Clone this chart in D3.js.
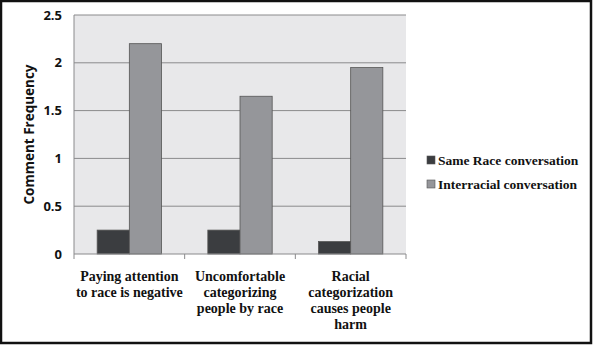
<!DOCTYPE html>
<html>
<head>
<meta charset="utf-8">
<script src="https://cdn.jsdelivr.net/npm/d3@7"></script>
<style>
  body { margin: 0; background: #fff; }
</style>
</head>
<body>
<div id="chart"></div>
<script>
// chart values
var categories = [
    ["Paying attention", "to race is negative"],
    ["Uncomfortable", "categorizing", "people by race"],
    ["Racial", "categorization", "causes people", "harm"]
];
var seriesNames = ["Same Race conversation", "Interracial conversation"];
var sameRace = [0.25, 0.25, 0.13];
var interracial = [2.2, 1.65, 1.95];
var yTicks = [0, 0.5, 1, 1.5, 2, 2.5];

var SERIF = "'Liberation Serif', 'Times New Roman', serif";
var SANS = "'Open Sans'";

function drawChart() {
    var W = 598, H = 348;
    var margin = { top: 15, left: 74 },
        width = 332,
        height = 239;
    var colors = ["#3b3d40", "#95969a"];

    var svg = d3.select("#chart").append("svg")
        .attr("width", W)
        .attr("height", H);

    // outer frame
    svg.append("rect")
        .attr("x", 1).attr("y", 1)
        .attr("width", 590).attr("height", 342)
        .attr("fill", "#fff")
        .attr("stroke", "#111")
        .attr("stroke-width", 2.5);

    var g = svg.append("g")
        .attr("transform", "translate(" + margin.left + "," + margin.top + ")");

    var x = d3.scaleBand()
        .domain(d3.range(categories.length))
        .range([0, width]);
    var x1 = d3.scaleBand()
        .domain([0, 1])
        .range([0, x.bandwidth()])
        .paddingOuter(0.72)
        .paddingInner(0);
    var y = d3.scaleLinear()
        .domain([0, 2.5])
        .range([height, 0]);

    g.append("rect")
        .attr("width", width)
        .attr("height", height)
        .attr("fill", "#e8e8ea");

    // gridlines
    g.selectAll(".grid")
        .data(yTicks.slice(1))
        .enter().append("line")
        .attr("x1", 0).attr("x2", width)
        .attr("y1", function (d) { return y(d); })
        .attr("y2", function (d) { return y(d); })
        .attr("stroke", "#8a8a8c")
        .attr("stroke-width", 1);

    // y axis (drawn by hand from the scale)
    g.append("line")
        .attr("x1", 0).attr("x2", 0)
        .attr("y1", 0).attr("y2", height)
        .attr("stroke", "#8a8a8c");
    g.selectAll(".ylbl")
        .data(yTicks)
        .enter().append("text")
        .attr("x", -12)
        .attr("y", function (d) { return y(d); })
        .attr("dy", "0.35em")
        .attr("text-anchor", "end")
        .style("font-family", SANS)
        .style("font-weight", "bold")
        .style("font-size", "13px")
        .attr("fill", "#111")
        .text(function (d) { return d; });

    // bars
    var data = [sameRace, interracial];
    var grp = g.selectAll(".cat")
        .data(d3.range(categories.length))
        .enter().append("g")
        .attr("transform", function (i) { return "translate(" + x(i) + ",0)"; });
    grp.selectAll("rect")
        .data(function (i) { return [0, 1].map(function (s) { return { s: s, v: data[s][i] }; }); })
        .enter().append("rect")
        .attr("x", function (d) { return x1(d.s); })
        .attr("width", x1.bandwidth())
        .attr("y", function (d) { return y(d.v); })
        .attr("height", function (d) { return height - y(d.v); })
        .attr("fill", function (d) { return colors[d.s]; })
        .attr("stroke", "#555")
        .attr("stroke-width", 0.8);

    // x axis
    var xa = g.append("g").attr("transform", "translate(0," + height + ")");
    xa.append("line").attr("x1", 0).attr("x2", width)
        .attr("stroke", "#8a8a8c");
    xa.selectAll(".tk")
        .data(d3.range(categories.length + 1))
        .enter().append("line")
        .attr("x1", function (i) { return i * x.step(); })
        .attr("x2", function (i) { return i * x.step(); })
        .attr("y1", 0).attr("y2", 5)
        .attr("stroke", "#8a8a8c");
    xa.selectAll(".lbl")
        .data(categories)
        .enter().append("text")
        .attr("text-anchor", "middle")
        .attr("transform", function (d, i) { return "translate(" + (x(i) + x.bandwidth() / 2) + ",27)"; })
        .style("font-family", SERIF)
        .style("font-weight", "bold")
        .style("font-size", "14px")
        .attr("fill", "#111")
        .selectAll("tspan")
        .data(function (d) { return d; })
        .enter().append("tspan")
        .attr("x", 0)
        .attr("dy", function (d, j) { return j == 0 ? 0 : 16; })
        .text(function (d) { return d; });

    // y title
    svg.append("text")
        .attr("transform", "translate(34," + (margin.top + height / 2) + ") rotate(-90)")
        .attr("text-anchor", "middle")
        .style("font-family", SANS)
        .style("font-weight", "bold")
        .style("font-size", "13.5px")
        .attr("fill", "#111")
        .text("Comment Frequency");

    // legend
    var leg = svg.selectAll(".leg")
        .data(seriesNames)
        .enter().append("g")
        .attr("transform", function (d, i) { return "translate(427," + (161 + i * 24) + ")"; });
    leg.append("rect")
        .attr("x", 0).attr("y", -5)
        .attr("width", 8).attr("height", 8)
        .attr("fill", function (d, i) { return colors[i]; })
        .attr("stroke", "#555")
        .attr("stroke-width", 0.6);
    leg.append("text")
        .attr("x", 11)
        .attr("y", 4)
        .style("font-family", SERIF)
        .style("font-weight", "bold")
        .style("font-size", "13.5px")
        .attr("fill", "#111")
        .text(function (d) { return d; });
}

drawChart();
</script>
</body>
</html>
